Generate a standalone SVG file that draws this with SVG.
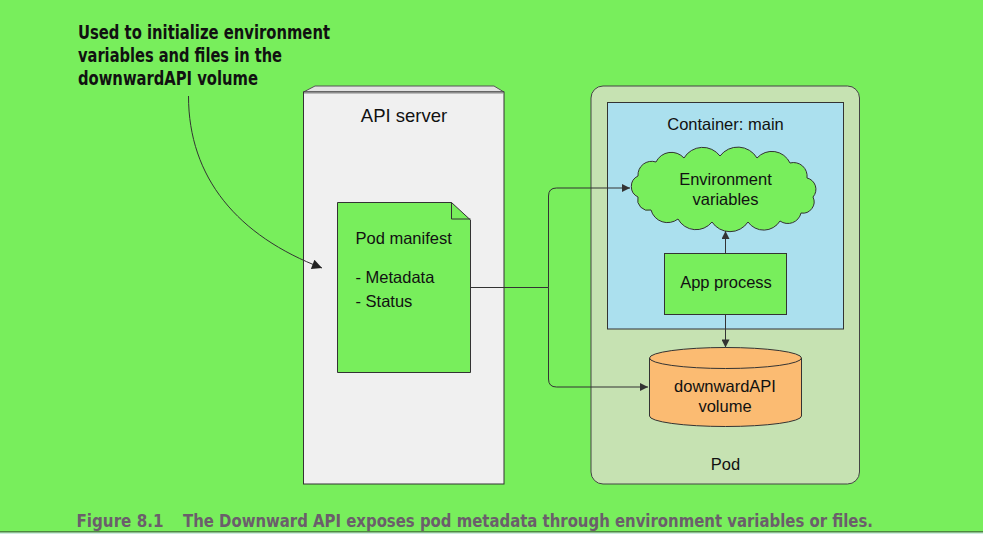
<svg xmlns="http://www.w3.org/2000/svg" width="983" height="534" viewBox="0 0 983 534">
<style>
.lbl{font-family:"Liberation Sans",Arial,sans-serif;font-size:16.5px;fill:#111}
.ctr{text-anchor:middle}
.note{font-family:"Liberation Sans Narrow","DejaVu Sans Condensed","Liberation Sans",sans-serif;font-weight:bold;font-size:20px;fill:#111}
.cap{font-family:"Liberation Sans Narrow","DejaVu Sans Condensed","Liberation Sans",sans-serif;font-weight:bold;font-size:18px;fill:#6b5e6b}
.conn{fill:none;stroke:#333;stroke-width:1}
.green{fill:#78ee5c;stroke:#333;stroke-width:1}
</style>
<defs>
<marker id="arr" viewBox="0 0 10 10" refX="10" refY="5" markerWidth="9" markerHeight="8" markerUnits="userSpaceOnUse" orient="auto">
<path d="M0,0 L10,5 L0,10 Z" fill="#333"/>
</marker>
<marker id="arrBig" viewBox="0 0 10 10" refX="10" refY="5" markerWidth="12" markerHeight="10" markerUnits="userSpaceOnUse" orient="auto">
<path d="M0,0 L10,5 L0,10 Z" fill="#222"/>
</marker>
</defs>
<rect x="0" y="0" width="983" height="534" fill="#78ee5c"/>

<g id="annotation">
<text class="note" x="78" y="39" textLength="252" lengthAdjust="spacingAndGlyphs">Used to initialize environment</text>
<text class="note" x="78" y="62" textLength="204" lengthAdjust="spacingAndGlyphs">variables and files in the</text>
<text class="note" x="78" y="85" textLength="180" lengthAdjust="spacingAndGlyphs">downwardAPI volume</text>
</g>

<g id="api-server">
<polygon points="303.5,92 315,86 494,86 504,92" fill="#e2e2e2" stroke="#555" stroke-width="1"/>
<rect x="303.5" y="92" width="200.5" height="392" fill="#f0f0f0" stroke="#333" stroke-width="1"/>
<line x1="304" y1="93" x2="503.5" y2="93" stroke="#888" stroke-width="1"/>
<text class="lbl ctr" x="404" y="121.5" style="font-size:18.5px">API server</text>
</g>

<g id="pod">
<rect x="591" y="86" width="268.5" height="398" rx="12" ry="12" fill="#c6e2b2" stroke="#444" stroke-width="1"/>
<text class="lbl ctr" x="725.5" y="469.5">Pod</text>
</g>

<g id="container-main">
<rect x="607.5" y="102.5" width="236" height="226.5" fill="#abe0ee" stroke="#333" stroke-width="1"/>
<text class="lbl ctr" x="725.5" y="130">Container: main</text>
</g>

<g id="pod-manifest">
<path d="M337.5,202.5 H451.5 L470.5,220 V372.5 H337.5 Z" class="green"/>
<path d="M451.5,202.5 V219 H470.5" fill="none" stroke="#333" stroke-width="1"/>
<text class="lbl" x="355.5" y="244">Pod manifest</text>
<text class="lbl" x="355.5" y="283">- Metadata</text>
<text class="lbl" x="355.5" y="306.5">- Status</text>
</g>

<g id="environment-variables">
<path class="green" d="M638,176 A13.7,13.7 0 0 1 656,162 A17,17 0 0 1 684,158 A21.7,21.7 0 0 1 720,156 A22.3,22.3 0 0 1 757,158 A20,20 0 0 1 790,163 A13.6,13.6 0 0 1 807,178 A11.6,11.6 0 0 1 813,197 A11.3,11.3 0 0 1 801,213 A13.5,13.5 0 0 1 780,221 A19.2,19.2 0 0 1 748,222 A21.6,21.6 0 0 1 712,222 A20.5,20.5 0 0 1 678,219 A17.1,17.1 0 0 1 651,210 A10.6,10.6 0 0 1 638,197 A11.6,11.6 0 0 1 638,176 Z"/>
<text class="lbl ctr" x="725.5" y="184.5">Environment</text>
<text class="lbl ctr" x="725.5" y="204.5">variables</text>
</g>

<g id="app-process">
<rect x="664.5" y="253.5" width="122" height="61" class="green"/>
<text class="lbl ctr" x="726" y="287.5">App process</text>
</g>

<g id="downwardapi-volume">
<path d="M649.5,358 A76,10.5 0 0 1 801.5,358 V416 A76,10.5 0 0 1 649.5,416 Z" fill="#fbbb72" stroke="#333" stroke-width="1"/>
<path d="M649.5,358 A76,10.5 0 0 0 801.5,358" fill="none" stroke="#333" stroke-width="1"/>
<text class="lbl ctr" x="725" y="391.5">downwardAPI</text>
<text class="lbl ctr" x="725" y="411.5">volume</text>
</g>

<g id="connectors">
<path class="conn" d="M188.5,96 C188.5,178 238,236 322,268" marker-end="url(#arrBig)"/>
<path class="conn" d="M470.5,287.5 H548.5 V196 Q548.5,188 556.5,188 H630" marker-end="url(#arr)"/>
<path class="conn" d="M548.5,287.5 V379 Q548.5,387 556.5,387 H648" marker-end="url(#arr)"/>
<path class="conn" d="M725.5,253.5 V231" marker-end="url(#arr)"/>
<path class="conn" d="M725.5,314.5 V347.5" marker-end="url(#arr)"/>
</g>

<g id="caption">
<text class="cap" x="76.5" y="527" textLength="87" lengthAdjust="spacingAndGlyphs">Figure 8.1</text>
<text class="cap" x="183" y="527" textLength="690" lengthAdjust="spacingAndGlyphs">The Downward API exposes pod metadata through environment variables or files.</text>
</g>
<line x1="0" y1="532" x2="983" y2="532" stroke="#222" stroke-width="1"/>
<rect x="0" y="532.5" width="983" height="1.5" fill="#cfeee0"/>
</svg>
